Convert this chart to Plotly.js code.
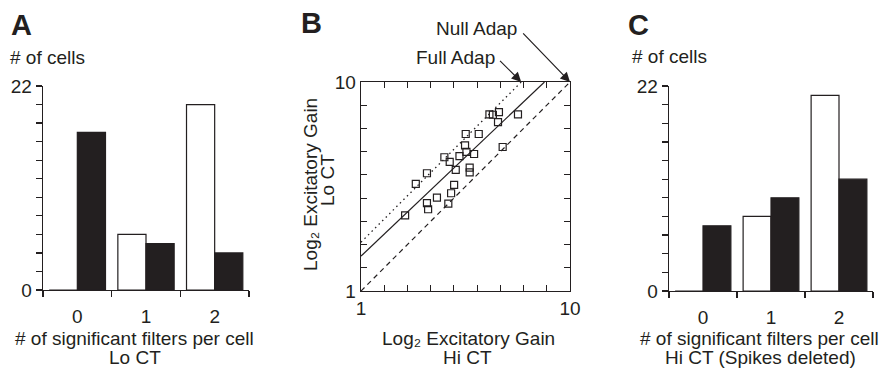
<!DOCTYPE html>
<html>
<head>
<meta charset="utf-8">
<script src="https://cdn.plot.ly/plotly-3.0.1.min.js"></script>
<style>html,body{margin:0;padding:0;background:#fff;}#chart{width:883px;height:370px;}</style>
</head>
<body>
<div id="chart"></div>
<script>
// ---------- data ----------
const categories = [0, 1, 2];
const tickLabels = ['0', '1', '2'];
// Panel A (Lo CT)
const loOpen   = [0, 6, 20];
const loFilled = [17, 5, 4];
// Panel C (Hi CT, spikes deleted)
const hiOpen   = [0, 8, 21];
const hiFilled = [7, 10, 12];
// Panel B scatter: excitatory gain Hi CT (x) vs Lo CT (y)
const gainHi = [2.90, 3.36, 3.84, 3.84, 3.89, 4.27, 4.59, 4.82, 4.76, 4.88, 5.01, 5.08, 5.24,
                5.51, 5.48, 5.54, 5.87, 5.68, 5.68, 6.07, 6.53, 6.68, 6.94, 6.90, 7.10, 7.76];
const gainLo = [4.26, 5.61, 6.07, 4.78, 4.52, 5.02, 6.76, 6.56, 4.76, 5.21, 5.57, 6.22, 6.81,
                7.76, 7.27, 6.99, 6.90, 6.31, 6.11, 7.76, 8.61, 8.59, 8.70, 8.27, 7.20, 8.61];
// reference lines
const nullX = [1, 10],  nullY = [1, 10];
const fullX = [1, 7.9], fullY = [3.1, 10];
const fitX  = [1, 8.9], fitY  = [2.5, 10];
const gainTicks = [1, 10];
const gainTickText = ['1', '10'];
const countTicks = [0, 22];
const countTickText = ['0', '22'];

// ---------- layout helpers ----------
const W = 883, H = 370;
const FONT = 'Liberation Sans, Arial, Helvetica, sans-serif';
const INK = '#231f20';
const px = v => v / W;
const py = v => 1 - v / H;

function barTraces(openVals, filledVals, xa, ya) {
  return [
    {type: 'bar', x: categories, y: openVals, xaxis: xa, yaxis: ya,
     marker: {color: '#ffffff', line: {color: INK, width: 1.2}}, hoverinfo: 'skip', showlegend: false},
    {type: 'bar', x: categories, y: filledVals, xaxis: xa, yaxis: ya,
     marker: {color: INK, line: {color: INK, width: 1.2}}, hoverinfo: 'skip', showlegend: false}
  ];
}

const data = [
  ...barTraces(loOpen, loFilled, 'x', 'y'),
  ...barTraces(hiOpen, hiFilled, 'x3', 'y3'),
  {type: 'scatter', mode: 'lines', x: nullX, y: nullY, xaxis: 'x2', yaxis: 'y2',
   line: {color: INK, width: 1.2, dash: '5px,4px'}, hoverinfo: 'skip', showlegend: false},
  {type: 'scatter', mode: 'lines', x: fullX, y: fullY, xaxis: 'x2', yaxis: 'y2',
   line: {color: INK, width: 1.3, dash: '1.5px,3.5px'}, hoverinfo: 'skip', showlegend: false},
  {type: 'scatter', mode: 'lines', x: fitX, y: fitY, xaxis: 'x2', yaxis: 'y2',
   line: {color: INK, width: 1.2}, hoverinfo: 'skip', showlegend: false},
  {type: 'scatter', mode: 'markers', x: gainHi, y: gainLo, xaxis: 'x2', yaxis: 'y2',
   marker: {symbol: 'square-open', size: 7, color: INK, line: {width: 1.2, color: INK}},
   hoverinfo: 'skip', showlegend: false}
];

function catXAxis(domain, anchor) {
  return {
    domain: domain, range: [-0.5, 2.5], anchor: anchor, showgrid: false, zeroline: false,
    showline: true, linecolor: INK, linewidth: 1.3,
    tickmode: 'array', tickvals: categories, ticktext: tickLabels,
    ticks: 'outside', ticklen: 9, tickcolor: 'rgba(0,0,0,0)',
    minor: {tick0: -0.5, dtick: 1, ticks: 'outside', ticklen: 6, tickcolor: INK, tickwidth: 1.2, showgrid: false},
    tickfont: {family: FONT, size: 19, color: INK}, fixedrange: true
  };
}
function countYAxis(domain, anchor) {
  return {
    domain: domain, range: [0, 22], anchor: anchor, showgrid: false, zeroline: false,
    showline: true, linecolor: INK, linewidth: 1.3,
    tickmode: 'array', tickvals: countTicks, ticktext: countTickText,
    ticks: 'outside', ticklen: 6, tickcolor: INK, tickwidth: 1.2,
    minor: {tick0: 0, dtick: 2, ticks: 'outside', ticklen: 6, tickcolor: INK, tickwidth: 1.2, showgrid: false},
    tickfont: {family: FONT, size: 19, color: INK}, fixedrange: true
  };
}
function gainAxis(domain, anchor) {
  return {
    domain: domain, range: [1, 10], anchor: anchor, showgrid: false, zeroline: false,
    showline: true, mirror: 'ticks', linecolor: INK, linewidth: 1.3,
    tickmode: 'array', tickvals: gainTicks, ticktext: gainTickText,
    ticks: 'inside', ticklen: 6, tickcolor: INK, tickwidth: 1.2,
    minor: {tick0: 1, dtick: 1, ticks: 'inside', ticklen: 6, tickcolor: INK, tickwidth: 1.2, showgrid: false},
    tickfont: {family: FONT, size: 19, color: INK}, fixedrange: true
  };
}

function ann(text, x, y, xanchor, extra) {
  return Object.assign({
    text: text, xref: 'paper', yref: 'paper', x: px(x), y: py(y),
    xanchor: xanchor || 'center', yanchor: 'middle', showarrow: false,
    font: {family: FONT, size: 19, color: INK}
  }, extra || {});
}
const letterFont = {family: FONT, size: 29, color: INK, weight: 700};
const arrowStyle = {showarrow: true, arrowhead: 2, arrowsize: 1.6, arrowwidth: 1.2,
                    arrowcolor: INK, standoff: 0, xanchor: 'right', yanchor: 'middle',
                    xref: 'x2', yref: 'y2', font: {family: FONT, size: 19, color: INK}};

const annotations = [
  // Panel A
  ann('A', 9, 25, 'left', {font: letterFont}),
  ann('# of cells', 8, 58, 'left'),
  ann('# of significant filters per cell', 134.5, 338),
  ann('Lo CT', 135, 357),
  // Panel B
  ann('B', 299, 23, 'left', {font: letterFont}),
  Object.assign({text: 'Null Adap', x: nullX[1], y: nullY[1], ax: -51, ay: -53, startstandoff: 6}, arrowStyle),
  Object.assign({text: 'Full Adap', x: fullX[1], y: fullY[1], ax: -24, ay: -24, startstandoff: 4}, arrowStyle),
  ann('Log\u2082 Excitatory Gain', 310, 185, 'center', {textangle: -90}),
  ann('Lo CT', 327, 180, 'center', {textangle: -90}),
  ann('Log\u2082 Excitatory Gain', 468, 338),
  ann('Hi CT', 467, 357),
  // Panel C
  ann('C', 626, 25, 'left', {font: letterFont}),
  ann('# of cells', 630, 57, 'left'),
  ann('# of significant filters per cell', 759, 338),
  ann('Hi CT (Spikes deleted)', 760, 357)
];

const layout = {
  width: W, height: H,
  margin: {l: 0, r: 0, t: 0, b: 0},
  paper_bgcolor: '#ffffff', plot_bgcolor: 'rgba(0,0,0,0)',
  barmode: 'group', bargap: 0.18, bargroupgap: 0,
  showlegend: false,
  font: {family: FONT, size: 19, color: INK},
  xaxis: catXAxis([px(43), px(249)], 'y'),
  yaxis: countYAxis([py(290), py(86)], 'x'),
  xaxis2: gainAxis([px(361), px(570)], 'y2'),
  yaxis2: gainAxis([py(291), py(82)], 'x2'),
  xaxis3: catXAxis([px(669), px(873)], 'y3'),
  yaxis3: countYAxis([py(291), py(86)], 'x3'),
  annotations: annotations
};

Plotly.newPlot('chart', data, layout, {displayModeBar: false, staticPlot: true});
</script>
</body>
</html>
